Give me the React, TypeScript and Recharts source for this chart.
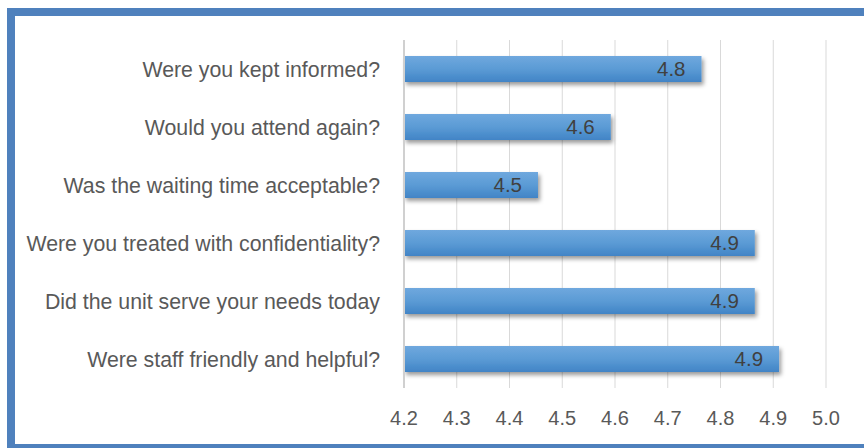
import { BarChart, Bar, XAxis, YAxis, CartesianGrid, LabelList } from "recharts";

const questions = [
  "Were you kept informed?",
  "Would you attend again?",
  "Was the waiting time acceptable?",
  "Were you treated with confidentiality?",
  "Did the unit serve your needs today",
  "Were staff friendly and helpful?",
];
const scores = [4.764, 4.592, 4.454, 4.865, 4.865, 4.911];
const xTicks = [4.2, 4.3, 4.4, 4.5, 4.6, 4.7, 4.8, 4.9, 5.0];

const data = questions.map((q, i) => ({ q, score: scores[i] }));

const font = "'Liberation Sans', Arial, sans-serif";

export default function App() {
  return (
    <div style={{ position: "fixed", left: 0, top: 0, width: 864, height: 448, overflow: "hidden", background: "#fff" }}>
      <div
        style={{
          position: "absolute",
          left: 7,
          top: 8,
          width: 880,
          height: 444,
          boxSizing: "border-box",
          border: "8px solid #4f81bd",
        }}
      />
      <div style={{ position: "absolute", left: 0, top: 0 }}>
        <BarChart
          width={864}
          height={448}
          data={data}
          layout="vertical"
          margin={{ top: 40, right: 38, bottom: 20, left: 8 }}
          barSize={26}
        >
          <defs>
            <linearGradient id="barGrad" x1="0" y1="0" x2="0" y2="1">
              <stop offset="0%" stopColor="#6fa8de" />
              <stop offset="50%" stopColor="#5b9bd5" />
              <stop offset="100%" stopColor="#4184c6" />
            </linearGradient>
            <filter id="barShadow" x="-5%" y="-30%" width="110%" height="180%">
              <feDropShadow dx="2" dy="3" stdDeviation="2" floodColor="#000" floodOpacity="0.4" />
            </filter>
          </defs>
          <CartesianGrid horizontal={false} stroke="#d9d9d9" />
          <XAxis
            type="number"
            domain={[4.2, 5.0]}
            ticks={xTicks}
            tickFormatter={(v: number) => v.toFixed(1)}
            axisLine={false}
            tickLine={false}
            tickMargin={17}
            height={40}
            tick={{ fill: "#595959", fontSize: 20, fontFamily: font }}
          />
          <YAxis
            type="category"
            dataKey="q"
            width={396}
            axisLine={{ stroke: "#d0d0d0", strokeWidth: 2 }}
            tickLine={false}
            tickMargin={18}
            tick={{ fill: "#595959", fontSize: 21.3, fontFamily: font }}
          />
          <Bar dataKey="score" fill="url(#barGrad)" filter="url(#barShadow)" isAnimationActive={false}>
            <LabelList
              dataKey="score"
              position="insideRight"
              offset={16}
              formatter={(v: number) => v.toFixed(1)}
              style={{ fill: "#404040", fontSize: 20.5, fontFamily: font }}
            />
          </Bar>
        </BarChart>
      </div>
    </div>
  );
}
